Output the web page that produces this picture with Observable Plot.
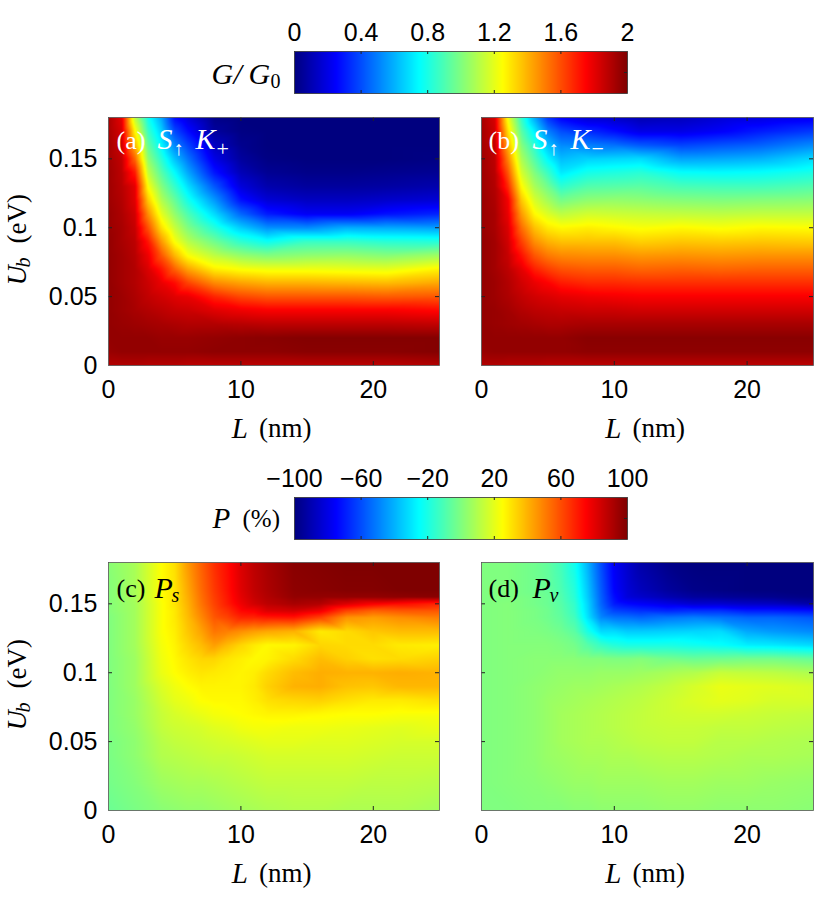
<!DOCTYPE html>
<html>
<head>
<meta charset="utf-8">
<script src="https://cdn.jsdelivr.net/npm/d3@7"></script>
<script src="https://cdn.jsdelivr.net/npm/@observablehq/plot@0.6"></script>
<style>
html,body{margin:0;padding:0;background:#fff}
#root{position:relative;width:830px;height:899px;overflow:hidden}
#root svg{position:absolute;background:transparent;max-width:none}
</style>
</head>
<body>
<div id="root"></div>
<script>
const lengthsG = [0,1,2,3,4,5,6,8,10,12,15,18,21,25];
const barriersG = [0,.01,.02,.03,.04,.05,.06,.07,.08,.09,.10,.11,.12,.13,.14,.15,.16,.17,.18];
const lengthsP = [0,2,4,5,6,7,8,9,10,11,12,14,16,18,20,22,25];
const barriersP = [0,.02,.04,.05,.06,.07,.08,.09,.10,.11,.12,.13,.14,.145,.15,.155,.16,.18];
const xTicks = [0,10,20];
const yTicks = [0,.05,.1,.15];
const gTicks = [0,.4,.8,1.2,1.6,2];
const pTicks = [-100,-60,-20,20,60,100];

// each inner list: one L column, from Ub = 0 to Ub = 0.18
const panelA = [
[1.90,1.95,1.96,1.96,1.96,1.96,1.96,1.96,1.96,1.96,1.95,1.95,1.94,1.94,1.94,1.93,1.93,1.92,1.92],
[1.90,1.96,1.96,1.95,1.94,1.94,1.93,1.93,1.93,1.92,1.92,1.91,1.90,1.89,1.88,1.87,1.85,1.83,1.80],
[1.90,1.96,1.96,1.94,1.92,1.91,1.90,1.90,1.89,1.88,1.86,1.84,1.81,1.80,1.70,1.55,1.40,1.26,1.12],
[1.89,1.96,1.96,1.93,1.90,1.87,1.85,1.82,1.78,1.71,1.59,1.47,1.35,1.24,1.13,1.03,.94,.86,.78],
[1.89,1.96,1.95,1.92,1.88,1.84,1.79,1.71,1.58,1.45,1.31,1.20,1.10,1.01,.92,.83,.74,.66,.58],
[1.89,1.96,1.95,1.91,1.86,1.81,1.73,1.56,1.39,1.24,1.14,1.04,.95,.85,.75,.63,.51,.39,.27],
[1.88,1.96,1.95,1.90,1.85,1.79,1.62,1.43,1.24,1.11,1.00,.90,.79,.69,.58,.48,.38,.27,.18],
[1.88,1.97,1.96,1.90,1.81,1.68,1.48,1.28,1.12,.97,.82,.68,.55,.42,.29,.20,.13,.06,.02],
[1.88,1.97,1.97,1.89,1.78,1.61,1.43,1.24,1.04,.84,.65,.45,.28,.18,.11,.06,.03,.01,0],
[1.88,1.97,1.98,1.88,1.76,1.58,1.40,1.22,1.00,.77,.53,.30,.17,.09,.04,.01,0,0,0],
[1.88,1.98,1.99,1.88,1.76,1.58,1.40,1.22,1.03,.86,.52,.23,.13,.06,.02,0,0,0,0],
[1.88,1.98,1.99,1.88,1.76,1.58,1.39,1.21,1.04,.86,.59,.23,.13,.06,.02,0,0,0,0],
[1.88,1.98,1.99,1.88,1.76,1.57,1.38,1.20,1.01,.83,.58,.28,.15,.07,.03,0,0,0,0],
[1.90,1.99,1.99,1.87,1.74,1.58,1.42,1.27,1.06,.82,.56,.32,.17,.09,.04,.01,0,0,0]
];
const panelB = [
[1.90,1.95,1.96,1.96,1.96,1.96,1.96,1.96,1.96,1.96,1.95,1.95,1.95,1.94,1.94,1.94,1.93,1.93,1.92],
[1.90,1.96,1.96,1.95,1.95,1.94,1.94,1.93,1.93,1.93,1.92,1.92,1.91,1.90,1.89,1.88,1.87,1.85,1.83],
[1.89,1.96,1.96,1.94,1.93,1.91,1.90,1.88,1.86,1.84,1.82,1.79,1.77,1.67,1.58,1.49,1.40,1.31,1.22],
[1.89,1.96,1.96,1.93,1.90,1.87,1.84,1.80,1.72,1.63,1.54,1.45,1.36,1.26,1.17,1.09,1.01,.93,.85],
[1.89,1.96,1.96,1.92,1.88,1.84,1.79,1.69,1.58,1.47,1.37,1.26,1.17,1.08,1.00,.91,.83,.72,.58],
[1.88,1.96,1.96,1.91,1.87,1.82,1.75,1.63,1.51,1.40,1.29,1.18,1.07,.97,.86,.74,.63,.50,.35],
[1.88,1.96,1.96,1.91,1.86,1.80,1.70,1.59,1.48,1.37,1.26,1.12,.98,.84,.71,.62,.52,.40,.24],
[1.88,1.97,1.98,1.92,1.85,1.78,1.67,1.57,1.47,1.37,1.28,1.16,1.03,.91,.79,.66,.50,.33,.16],
[1.88,1.97,1.98,1.92,1.85,1.77,1.67,1.57,1.47,1.37,1.26,1.15,1.04,.92,.81,.67,.47,.27,.14],
[1.88,1.97,1.98,1.92,1.84,1.76,1.66,1.55,1.45,1.34,1.24,1.14,1.03,.93,.83,.68,.42,.20,.10],
[1.88,1.97,1.98,1.92,1.84,1.76,1.66,1.56,1.46,1.36,1.26,1.13,1.01,.89,.76,.57,.38,.20,.12],
[1.88,1.97,1.98,1.92,1.84,1.76,1.66,1.55,1.45,1.35,1.24,1.12,1.00,.88,.75,.58,.41,.24,.17],
[1.88,1.97,1.98,1.92,1.84,1.76,1.66,1.56,1.46,1.36,1.26,1.13,1.01,.88,.76,.60,.44,.30,.19],
[1.88,1.97,1.98,1.92,1.84,1.76,1.66,1.56,1.46,1.35,1.25,1.13,1.02,.91,.80,.68,.52,.36,.22]
];
const panelC = [
[-4,-2,-1,-1,0,0,0,0,0,0,0,0,0,1,1,1,1,2],
[-1,1,3,3,4,5,5,6,6,6,7,7,7,7,7,8,8,8],
[2,6,10,11,13,14,16,18,21,22,23,24,24,24,24,25,25,25],
[3,7,11,13,15,17,20,22,25,26,27,28,29,29,30,30,30,31],
[4,8,12,14,16,19,22,25,28,30,33,36,38,39,40,41,42,45],
[4,8,13,15,17,21,25,27,30,33,38,43,48,50,52,53,54,56],
[5,9,14,16,19,23,26,27,29,33,44,52,58,60,62,63,64,66],
[6,10,14,17,20,24,26,27,28,30,38,50,62,66,70,71,72,73],
[7,11,15,18,22,25,26,27,27,28,33,47,68,74,78,80,81,82],
[8,12,16,19,23,26,28,29,28,26,29,44,68,76,84,86,87,88],
[9,13,17,20,23,27,31,34,32,27,26,42,70,82,88,90,91,92],
[10,13,17,20,22,27,33,40,38,32,27,40,71,84,92,96,97,98],
[10,13,17,19,22,26,34,41,41,38,33,29,62,78,90,96,98,99],
[9,13,17,19,21,25,31,37,40,34,32,32,46,62,82,96,99,100],
[9,12,16,18,20,25,29,36,40,31,32,36,44,56,76,96,99,100],
[9,12,15,17,19,24,29,39,41,32,29,38,47,58,73,97,100,100],
[7,11,15,17,21,24,31,39,40,34,28,38,50,58,68,98,100,100]
];
const panelD = [
[0,0,0,0,0,0,0,0,0,0,0,0,0,0,0,0,0,0],
[0,1,1,1,1,1,1,1,1,1,1,1,1,1,1,0,0,0],
[1,2,3,3,3,3,3,3,2,2,1,0,-1,-1,-2,-2,-3,-3],
[1,3,5,5,5,5,5,4,3,2,1,-1,-3,-3,-4,-4,-5,-6],
[1,4,6,7,7,7,6,5,4,2,0,-3,-6,-7,-8,-9,-10,-12],
[2,5,7,8,8,8,7,6,4,2,-2,-7,-12,-14,-15,-17,-18,-22],
[2,5,8,9,9,9,8,6,4,1,-8,-20,-30,-32,-33,-35,-36,-40],
[3,6,8,9,10,10,9,7,5,1,-14,-32,-48,-52,-55,-56,-57,-60],
[3,6,9,10,11,11,10,8,5,0,-18,-32,-52,-62,-70,-73,-75,-77],
[3,6,9,11,12,12,11,9,5,0,-20,-35,-53,-64,-74,-82,-83,-85],
[3,6,10,12,13,13,12,10,6,1,-20,-35,-55,-66,-76,-85,-88,-92],
[4,7,11,13,14,15,15,13,8,-2,-20,-34,-52,-68,-80,-90,-94,-98],
[4,7,11,13,14,16,18,17,10,-4,-22,-33,-50,-66,-84,-94,-98,-100],
[3,6,10,11,13,16,20,21,14,-3,-24,-32,-52,-66,-84,-95,-99,-100],
[3,6,9,11,13,15,19,20,13,-2,-28,-42,-55,-70,-86,-96,-100,-100],
[3,5,9,10,12,14,17,19,12,-2,-29,-45,-55,-70,-87,-97,-100,-100],
[2,4,8,9,11,13,17,17,9,-5,-32,-48,-58,-72,-92,-99,-100,-100]
];

const jetStops = [0,.125,.375,.625,.875,1];
const jetColors = ["#00007f","#0000ff","#00ffff","#ffff00","#ff0000","#7f0000"];
const serif = "'Liberation Serif','DejaVu Serif',serif";
const sans = "'Liberation Sans',Arial,sans-serif";
const root = document.getElementById("root");

function colorScale(lo, hi){
  return {type:"linear", domain:jetStops.map(t=>lo+t*(hi-lo)), range:jetColors, clamp:true};
}
function word(s, frameAnchor, dx, dy, o={}){
  return Plot.text([s], {text:d=>d, frameAnchor, dx, dy, lineAnchor:"middle", textAnchor:"start",
    fontFamily:serif, fontSize:27, ...o});
}
function place(svg, left, top){
  svg.style.left = left+"px"; svg.style.top = top+"px"; root.appendChild(svg);
}
function heat(lengths, barriers, cols, lo, hi, opt){
  const pts = lengths.flatMap((L,i)=>barriers.map((u,j)=>({L,u,v:cols[i][j]})));
  const h = 248, w = opt.frameW;
  const svg = Plot.plot({
    width: opt.width, height: opt.height,
    marginLeft: opt.ml, marginRight: opt.width-opt.ml-w,
    marginTop: opt.mt, marginBottom: opt.height-opt.mt-h,
    style:{background:"transparent"},
    x:{domain:[0,25],axis:null}, y:{domain:[0,.18],axis:null},
    color:colorScale(lo,hi),
    marks:[
      Plot.raster(pts,{x:"L",y:"u",fill:"v",interpolate:"barycentric",pixelSize:1}),
      Plot.tickX(xTicks.slice(1),{x:d=>d,insetTop:h-4,stroke:"#222"}),
      Plot.tickX(xTicks.slice(1),{x:d=>d,insetBottom:h-4,stroke:"#222"}),
      Plot.tickY(yTicks.slice(1),{y:d=>d,insetRight:w-4,stroke:"#222"}),
      Plot.tickY(yTicks.slice(1),{y:d=>d,insetLeft:w-4,stroke:"#222"}),
      Plot.frame({stroke:"#555",strokeWidth:.8}),
      Plot.axisX(xTicks,{anchor:"bottom",label:null,tickSize:0,tickPadding:15,fontSize:25,fontFamily:sans,fill:"#000",tickFormat:d=>String(d)}),
      opt.yLabels ? Plot.axisY(yTicks,{anchor:"left",label:null,tickSize:0,tickPadding:11,fontSize:25,fontFamily:sans,fill:"#000",tickFormat:d=>String(d)}) : null,
      word("L","bottom",0,63,{fontStyle:"italic",textAnchor:"end",dx:-26,fontSize:29}),
      word("(nm)","bottom",0,63,{textAnchor:"start",dx:-15}),
      ...opt.labels
    ]
  });
  place(svg,opt.left,opt.top);
}
function bar(lo, hi, ticks, top, labels, fmt){
  const w = 333, h = 42;
  const svg = Plot.plot({
    width:830, height:h+70,
    marginLeft:294, marginRight:830-294-w,
    marginTop:60, marginBottom:10,
    style:{background:"transparent"},
    x:{domain:[lo,hi],axis:null}, y:{domain:[0,1],axis:null},
    color:colorScale(lo,hi),
    marks:[
      Plot.raster({x1:lo,x2:hi,y1:0,y2:1,width:333,height:1,fill:(x,y)=>x}),
      Plot.tickX(ticks.slice(1,-1),{x:d=>d,insetTop:h-3,stroke:"#222"}),
      Plot.tickX(ticks.slice(1,-1),{x:d=>d,insetBottom:h-3,stroke:"#222"}),
      Plot.tickY([.5],{y:d=>d,insetLeft:w-3,stroke:"#222"}),
      Plot.frame({stroke:"#333",strokeWidth:.8}),
      Plot.axisX(ticks,{anchor:"top",label:null,tickSize:0,tickPadding:11,fontSize:25,fontFamily:sans,fill:"#000",tickFormat:fmt}),
      ...labels
    ]
  });
  place(svg,0,top);
}

bar(0,2,gTicks,-9,[
  word("G","left",-83,2,{fontStyle:"italic",fontSize:30}),
  word("/","left",-61,2,{fontStyle:"italic",fontSize:30}),
  word("G","left",-46,2,{fontStyle:"italic",fontSize:30}),
  word("0","left",-24,9,{fontSize:20})
],d=>String(d));
bar(-100,100,pTicks,437,[
  word("P","left",-82,0,{fontStyle:"italic",fontSize:29}),
  word("(%)","left",-52,0,{fontSize:25})
],d=>String(d).replace("-","\u2212"));

const white = {fill:"#fff"};
const yLab = [
  Plot.text(["U"],{text:d=>d,frameAnchor:"left",dx:-91,dy:44,rotate:-90,fontFamily:serif,fontSize:28,fontStyle:"italic",textAnchor:"start",lineAnchor:"middle"}),
  Plot.text(["b"],{text:d=>d,frameAnchor:"left",dx:-85,dy:26,rotate:-90,fontFamily:serif,fontSize:20,fontStyle:"italic",textAnchor:"start",lineAnchor:"middle"}),
  Plot.text(["(eV)"],{text:d=>d,frameAnchor:"left",dx:-91,dy:2,rotate:-90,fontFamily:serif,fontSize:27,textAnchor:"start",lineAnchor:"middle"})
];

heat(lengthsG,barriersG,panelA,0,2,{left:0,top:100,width:450,height:345,ml:108,mt:17,frameW:331,yLabels:true,labels:[
  ...yLab,
  word("(a)","top-left",8,23,{...white,fontSize:26}),
  word("S","top-left",49,22,{...white,fontStyle:"italic",fontSize:30}),
  word("\u2191","top-left",65,31,{...white,fontSize:20}),
  word("K","top-left",87,22,{...white,fontStyle:"italic",fontSize:30}),
  word("+","top-left",108,31,{...white,fontSize:22})
]});
heat(lengthsG,barriersG,panelB,0,2,{left:450,top:100,width:380,height:345,ml:31,mt:17,frameW:332,yLabels:false,labels:[
  word("(b)","top-left",7,23,{...white,fontSize:26}),
  word("S","top-left",51,22,{...white,fontStyle:"italic",fontSize:30}),
  word("\u2191","top-left",67,31,{...white,fontSize:20}),
  word("K","top-left",89,22,{...white,fontStyle:"italic",fontSize:30}),
  word("\u2212","top-left",110,31,{...white,fontSize:22})
]});
heat(lengthsP,barriersP,panelC,-100,100,{left:0,top:545,width:450,height:345,ml:108,mt:17,frameW:331,yLabels:true,labels:[
  ...yLab,
  word("(c)","top-left",8,26,{fontSize:26}),
  word("P","top-left",46,26,{fontStyle:"italic",fontSize:30}),
  word("s","top-left",63,33,{fontStyle:"italic",fontSize:20})
]});
heat(lengthsP,barriersP,panelD,-100,100,{left:450,top:545,width:380,height:345,ml:31,mt:17,frameW:332,yLabels:false,labels:[
  word("(d)","top-left",7,26,{fontSize:26}),
  word("P","top-left",51,26,{fontStyle:"italic",fontSize:30}),
  word("v","top-left",68,33,{fontStyle:"italic",fontSize:20})
]});
</script>
</body>
</html>
